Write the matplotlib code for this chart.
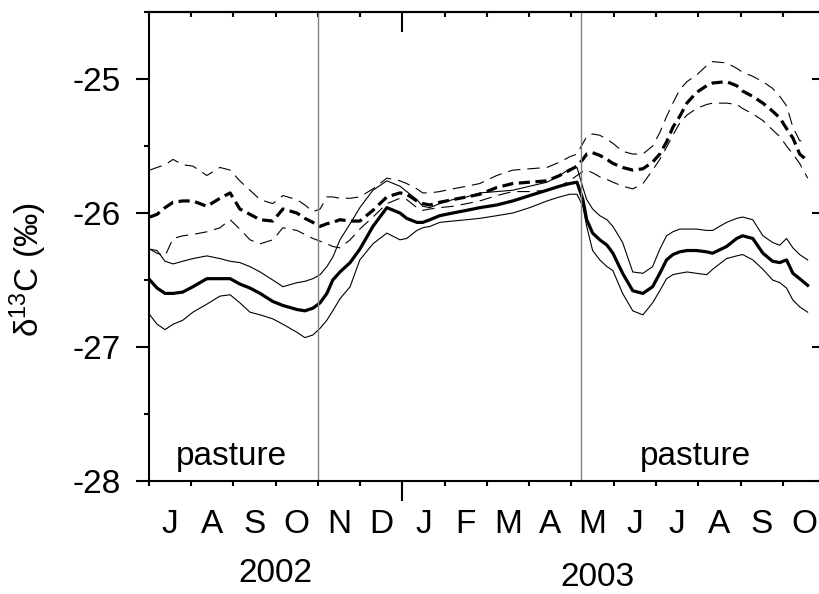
import matplotlib
matplotlib.use('Agg')
import matplotlib.pyplot as plt
import numpy as np

plt.rcParams['font.family'] = ['Liberation Sans', 'DejaVu Sans']
plt.rcParams['font.size'] = 24
plt.rcParams['axes.unicode_minus'] = False
plt.rcParams['lines.scale_dashes'] = False

# time axis in months since 1 July 2002
months = [0.02, 0.19, 0.38, 0.57, 0.80, 1.04, 1.37, 1.68, 1.92, 2.15, 2.39, 2.63,
          2.93, 3.17, 3.50, 3.69, 3.88, 4.05, 4.21, 4.35, 4.52, 4.76, 4.99, 5.30,
          5.63, 5.94, 6.10, 6.34, 6.48, 6.65, 6.88, 7.19, 7.52, 7.83, 8.23, 8.61,
          9.01, 9.42, 9.72, 9.96, 10.13, 10.27, 10.36, 10.50, 10.67, 10.84, 10.98,
          11.21, 11.45, 11.69, 11.92, 12.09, 12.25, 12.40, 12.56, 12.73, 12.96,
          13.20, 13.34, 13.67, 13.91, 14.05, 14.29, 14.53, 14.76, 14.93, 15.09,
          15.24, 15.40, 15.59]

# solid: mean and bounds
solid_mean = [-26.50, -26.56, -26.60, -26.60, -26.59, -26.55, -26.49, -26.49, -26.49, -26.53,
              -26.56, -26.60, -26.66, -26.69, -26.72, -26.73, -26.71, -26.67, -26.60, -26.50,
              -26.44, -26.37, -26.27, -26.10, -25.96, -26.00, -26.04, -26.07, -26.07, -26.05,
              -26.02, -26.00, -25.98, -25.96, -25.94, -25.91, -25.87, -25.83, -25.80, -25.78,
              -25.77, -25.90, -26.05, -26.15, -26.20, -26.24, -26.30, -26.45, -26.58, -26.60,
              -26.55, -26.45, -26.35, -26.31, -26.29, -26.28, -26.28, -26.29, -26.30, -26.25,
              -26.19, -26.17, -26.19, -26.30, -26.36, -26.37, -26.35, -26.45, -26.49, -26.54]
solid_upper = [-26.27, -26.28, -26.36, -26.38, -26.36, -26.34, -26.32, -26.34, -26.36, -26.37,
               -26.40, -26.44, -26.50, -26.55, -26.52, -26.51, -26.49, -26.46, -26.40, -26.33,
               -26.20, -26.08, -25.96, -25.83, -25.76, -25.80, -25.84, -25.90, -25.95, -25.96,
               -25.93, -25.90, -25.88, -25.85, -25.84, -25.83, -25.80, -25.77, -25.72, -25.67,
               -25.66, -25.81, -25.90, -25.97, -26.02, -26.05, -26.10, -26.22, -26.44, -26.45,
               -26.40, -26.27, -26.17, -26.14, -26.12, -26.12, -26.12, -26.13, -26.13, -26.07,
               -26.04, -26.03, -26.05, -26.17, -26.22, -26.24, -26.19, -26.26, -26.31, -26.35]
solid_lower = [-26.76, -26.83, -26.87, -26.83, -26.80, -26.74, -26.68, -26.62, -26.61, -26.67,
               -26.74, -26.76, -26.79, -26.83, -26.89, -26.93, -26.91, -26.86, -26.80, -26.73,
               -26.64, -26.55, -26.35, -26.23, -26.15, -26.20, -26.19, -26.13, -26.11, -26.10,
               -26.07, -26.06, -26.05, -26.04, -26.02, -26.00, -25.96, -25.91, -25.88, -25.86,
               -25.86, -25.95, -26.10, -26.28, -26.35, -26.40, -26.43, -26.60, -26.73, -26.76,
               -26.67, -26.58, -26.49, -26.46, -26.45, -26.44, -26.45, -26.46, -26.42, -26.34,
               -26.32, -26.31, -26.35, -26.42, -26.50, -26.52, -26.56, -26.65, -26.70, -26.74]

# dashed: mean and bounds
dash_mean = [-26.03, -26.01, -25.96, -25.92, -25.91, -25.91, -25.95, -25.89, -25.85, -25.97,
             -26.01, -26.05, -26.06, -25.97, -26.00, -26.04, -26.07, -26.10, -26.08, -26.07,
             -26.05, -26.06, -26.06, -25.98, -25.88, -25.85, -25.86, -25.91, -25.93, -25.94,
             -25.92, -25.90, -25.88, -25.86, -25.81, -25.78, -25.77, -25.76, -25.72, -25.68,
             -25.65, -25.60, -25.56, -25.55, -25.57, -25.60, -25.63, -25.66, -25.68, -25.67,
             -25.62, -25.56, -25.47, -25.36, -25.28, -25.18, -25.10, -25.05, -25.03, -25.02,
             -25.05, -25.09, -25.13, -25.18, -25.24, -25.29, -25.37, -25.44, -25.56, -25.61]
dash_upper = [-25.68, -25.66, -25.64, -25.60, -25.64, -25.65, -25.72, -25.66, -25.68, -25.76,
              -25.83, -25.90, -25.93, -25.87, -25.90, -25.94, -25.99, -25.97, -25.88, -25.88,
              -25.89, -25.89, -25.88, -25.82, -25.74, -25.76, -25.78, -25.82, -25.85, -25.85,
              -25.84, -25.82, -25.80, -25.78, -25.72, -25.68, -25.67, -25.66, -25.62, -25.58,
              -25.56, -25.48, -25.43, -25.41, -25.42, -25.45, -25.48, -25.54, -25.56, -25.56,
              -25.50, -25.40, -25.28, -25.18, -25.08, -25.02, -24.97, -24.90, -24.87, -24.88,
              -24.92, -24.95, -24.98, -25.02, -25.07, -25.13, -25.20, -25.36, -25.46, -25.47]
dash_lower = [-26.27, -26.30, -26.32, -26.19, -26.17, -26.16, -26.14, -26.11, -26.05, -26.12,
              -26.20, -26.23, -26.20, -26.11, -26.13, -26.16, -26.19, -26.21, -26.23, -26.25,
              -26.26, -26.20, -26.12, -26.03, -25.93, -25.89, -25.90, -25.96, -25.98, -25.97,
              -25.96, -25.95, -25.93, -25.91, -25.87, -25.84, -25.84, -25.83, -25.80, -25.76,
              -25.72, -25.69, -25.68, -25.70, -25.73, -25.75, -25.77, -25.80, -25.82, -25.78,
              -25.68, -25.60, -25.51, -25.42, -25.33, -25.27, -25.22, -25.19, -25.18, -25.18,
              -25.19, -25.22, -25.26, -25.31, -25.38, -25.43, -25.50, -25.56, -25.63, -25.74]

month_letters = ['J', 'A', 'S', 'O', 'N', 'D', 'J', 'F', 'M', 'A', 'M', 'J', 'J', 'A', 'S', 'O']
years = ['2002', '2003']
year_pos = [2.98, 10.62]
pasture_bounds = [4.0, 10.22]   # grazing period boundaries
pasture_labels = [1.96, 12.94]

fig = plt.figure(figsize=(8.2, 5.94), dpi=100)
ax = fig.add_axes([0.1817, 0.1902, 0.8244, 0.7896])

ax.plot(months, solid_mean, color='black', lw=2.3)
ax.plot(months, solid_upper, color='black', lw=0.8)
ax.plot(months, solid_lower, color='black', lw=0.8)
ax.plot(months, dash_mean, color='black', lw=2.3, dashes=[8, 4])
ax.plot(months, dash_upper, color='black', lw=0.8, dashes=[9, 5])
ax.plot(months, dash_lower, color='black', lw=0.8, dashes=[9, 5])

for xb in pasture_bounds:
    ax.axvline(xb, color='#808080', lw=1.0)

for xp in pasture_labels:
    ax.text(xp, -27.88, 'pasture', ha='center', va='baseline')

ax.set_xlim(0, 16)
ax.set_ylim(-28, -24.5)

for side in ['left', 'bottom', 'top', 'right']:
    ax.spines[side].set_linewidth(1.5)

# y axis: outward ticks on the left, inward on the right
ax.set_yticks([-28, -27, -26, -25])
ax.set_yticks([-27.5, -26.5, -25.5, -24.5], minor=True)
ax.tick_params(axis='y', which='major', direction='out', length=9.4, width=1.5, pad=11)
ax.tick_params(axis='y', which='minor', direction='out', length=3.6, width=1.5)
ax.set_ylabel(r'$\mathregular{\delta^{13}}$C (‰)')
ax.yaxis.set_label_coords(-0.148, 0.45)

secy = ax.secondary_yaxis('right')
secy.set_yticks([-28, -27, -26, -25])
secy.set_yticks([-27.5, -26.5, -25.5, -24.5], minor=True)
secy.tick_params(which='major', direction='in', length=9.4, width=1.5, labelright=False)
secy.tick_params(which='minor', direction='in', length=3.6, width=1.5)
secy.spines['right'].set_linewidth(1.5)

# x axis: month boundaries as ticks, letters centred on each month
ax.set_xticks(np.arange(0, 17))
ax.set_xticklabels([])
ax.set_xticks(np.arange(16) + 0.5, minor=True)
ax.set_xticklabels(month_letters, minor=True)
ax.tick_params(axis='x', which='major', direction='out', length=3.6, width=1.5)
ax.tick_params(axis='x', which='minor', length=0, pad=20)

secx = ax.secondary_xaxis('top')
secx.set_xticks(np.arange(0, 17))
secx.tick_params(direction='in', length=3.6, width=1.5, labeltop=False)
secx.spines['top'].set_linewidth(1.5)

# longer tick at the turn of the year
for t in [ax.xaxis.get_major_ticks()[6], secx.xaxis.get_major_ticks()[6]]:
    t.tick1line.set_markersize(14.4)
    t.tick2line.set_markersize(14.4)

for yr, xp, yp in zip(years, year_pos, [-0.197, -0.205]):
    ax.text(xp, yp, yr, transform=ax.get_xaxis_transform(), ha='center', va='center')

fig.savefig('out.png', dpi=100)
